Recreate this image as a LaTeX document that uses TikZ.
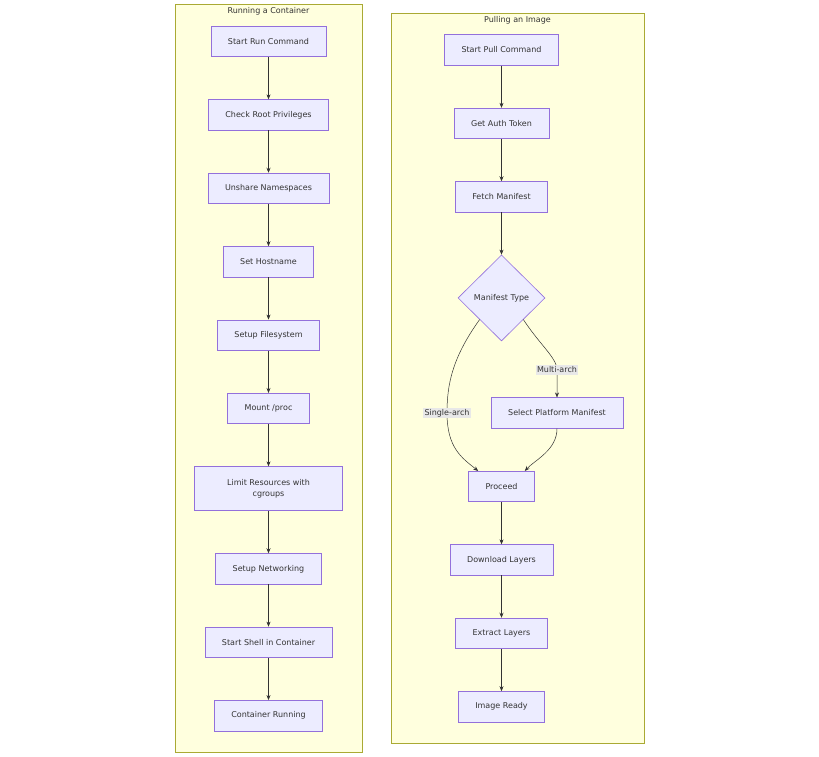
\documentclass[tikz,border=0pt]{standalone}
\usepackage{fontspec}
\setmainfont{DejaVu Sans}
\usepackage{xcolor}
\usetikzlibrary{shapes.geometric, arrows.meta, positioning, calc}

\definecolor{boxfill}{HTML}{ECECFF}
\definecolor{boxline}{HTML}{9370DB}
\definecolor{groupfill}{HTML}{FFFFDE}
\definecolor{groupline}{HTML}{AAAA33}
\definecolor{textgray}{HTML}{333333}
\definecolor{labelfill}{HTML}{E8E8E8}

\begin{document}
\begin{tikzpicture}[
    x=1pt, y=-1pt,
    node distance=42.3pt and 20pt,
    font=\fontsize{8}{11}\selectfont, text=textgray,
    % Define specific node styles
    step_node/.style={rectangle, draw=boxline, fill=boxfill, line width=0.6pt, align=center, minimum height=30.5pt, inner xsep=17pt},
    decision_node/.style={diamond, draw=boxline, fill=boxfill, line width=0.6pt, minimum width=87pt, minimum height=86pt, inner sep=0pt},
    group_box/.style={draw=groupline, fill=groupfill, line width=0.6pt},
    edge_label/.style={fill=labelfill, inner sep=1.5pt},
    arrow/.style={-{Stealth[length=5pt, width=4pt]}, line width=0.5pt, draw=textgray},
]

\useasboundingbox (0,0) rectangle (819,757);

% Clusters
\draw[group_box] (175,4) rectangle (362,752);
\node (runtitle) at (268.5,11) {Running a Container};
\draw[group_box] (391,13) rectangle (644,743);
\node (pulltitle) at (517.5,20) {Pulling an Image};

% Nodes Running a Container (Top to Bottom)
\node[step_node] (start) at (268.5,41.5) {Start Run Command};
\node[step_node, below=of start] (root) {Check Root Privileges};
\node[step_node, below=of root] (unshare) {Unshare Namespaces};
\node[step_node, below=of unshare] (host) {Set Hostname};
\node[step_node, below=of host] (fs) {Setup Filesystem};
\node[step_node, below=of fs] (proc) {Mount /proc};
\node[step_node, below=of proc, minimum height=44pt, minimum width=148pt] (limit) {Limit Resources with\\cgroups};
\node[step_node, below=of limit] (net) {Setup Networking};
\node[step_node, below=of net] (shell) {Start Shell in Container};
\node[step_node, below=of shell] (running) {Container Running};

% Nodes Pulling an Image
\node[step_node] (pull) at (501.5,50) {Start Pull Command};
\node[step_node, below=of pull] (auth) {Get Auth Token};
\node[step_node, below=of auth] (fetch) {Fetch Manifest};
\node[decision_node, below=of fetch] (type) {Manifest Type};
\node[step_node] (select) at (557,413) {Select Platform Manifest};
\node[step_node] (proceed) at (501.5,486.5) {Proceed};
\node[step_node, below=of proceed] (download) {Download Layers};
\node[step_node, below=of download] (extract) {Extract Layers};
\node[step_node, below=of extract] (ready) {Image Ready};

% Connections
\draw[arrow] (start) -- (root);
\draw[arrow] (root) -- (unshare);
\draw[arrow] (unshare) -- (host);
\draw[arrow] (host) -- (fs);
\draw[arrow] (fs) -- (proc);
\draw[arrow] (proc) -- (limit);
\draw[arrow] (limit) -- (net);
\draw[arrow] (net) -- (shell);
\draw[arrow] (shell) -- (running);

\draw[arrow] (pull) -- (auth);
\draw[arrow] (auth) -- (fetch);
\draw[arrow] (fetch) -- (type);
\draw[arrow] (type.south west) .. controls (452,358) and (447,385) .. (447,413) node[edge_label] {Single-arch}
    .. controls (447,448) and (462,458) .. ([xshift=10pt]proceed.north west);
\draw[arrow] (type.south east) .. controls (540,345) and (557,358) .. (557,370) node[edge_label] {Multi-arch} -- (select.north);
\draw[arrow] (select.south) .. controls (557,450) and (535,460) .. ([xshift=-10pt]proceed.north east);
\draw[arrow] (proceed) -- (download);
\draw[arrow] (download) -- (extract);
\draw[arrow] (extract) -- (ready);

\end{tikzpicture}
\end{document}
